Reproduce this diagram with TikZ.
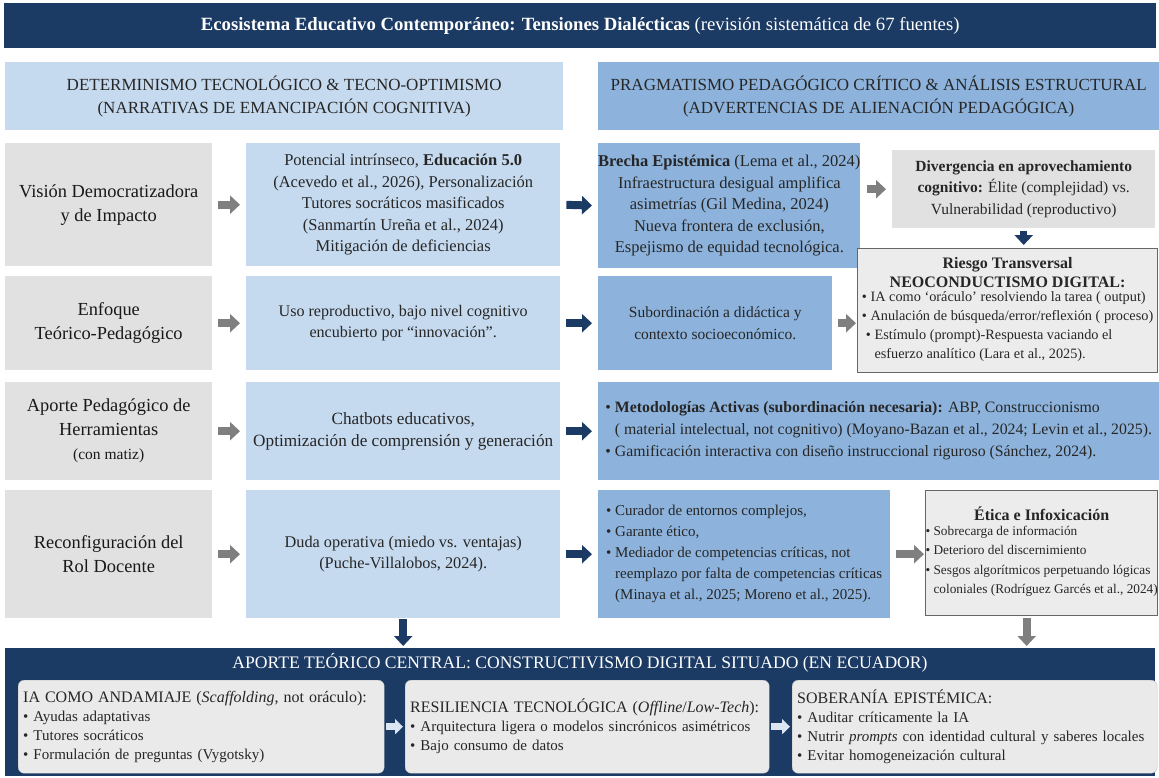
\documentclass[tikz,border=0pt]{standalone}
\usepackage{fontspec}
\setmainfont{Liberation Serif}
\usetikzlibrary{arrows.meta}

\definecolor{navy}{HTML}{1B3A64}
\definecolor{optblue}{HTML}{C6DAEF}
\definecolor{critblue}{HTML}{8DB3DC}
\definecolor{topicgray}{HTML}{E1E1E1}
\definecolor{riskgray}{HTML}{ECECEC}
\definecolor{arrgray}{HTML}{7F7F7F}
\definecolor{cardgray}{HTML}{EAEAEA}
\definecolor{paleblue}{HTML}{DCE6F2}

\newcommand{\itm}{\textbullet\ }
\newcommand{\cnt}{\phantom{\textbullet}\ }
\newcommand{\setfs}[2]{\fontsize{#1}{#2}\selectfont}

\tikzset{
    base/.style={anchor=north west, inner sep=0pt, align=center, text=black!85},
    topic/.style={base, fill=topicgray, minimum width=207pt, text=black!90, font=\setfs{18.4}{24}},
    optim/.style={base, fill=optblue, minimum width=314pt, font=\setfs{16.5}{21.5}},
    critic/.style={base, fill=critblue, font=\setfs{16.5}{21.5}},
    risk/.style={base, fill=riskgray, draw=black!60, line width=1.2pt},
    card/.style={base, align=left, rounded corners=6pt, fill=cardgray, draw=black!25,
        inner xsep=5pt, font=\setfs{15}{19}},
    garrow/.style={draw=arrgray, line width=8pt, -{Triangle[width=18pt,length=10pt]},
        shorten <=6pt, shorten >=6pt},
    narrow/.style={garrow, draw=navy},
    larrow/.style={draw=paleblue, line width=7pt, -{Triangle[width=15pt,length=8pt]},
        shorten <=2pt, shorten >=2pt}
}

\begin{document}
\begin{tikzpicture}[x=1pt, y=-1pt]
    \useasboundingbox (0,0) rectangle (1159,778);

    % title and column headers
    \node[base, fill=navy, text=white, minimum width=1152pt, minimum height=45pt,
        font=\setfs{18.7}{22}] (title) at (4,3)
        {\textbf{Ecosistema Educativo Contemporáneo: Tensiones Dialécticas} (revisión sistemática de 67 fuentes)};
    \node[base, fill=optblue, minimum width=558pt, minimum height=68pt, font=\setfs{17}{23}] (hdopt) at (5,62)
        {DETERMINISMO TECNOLÓGICO \& TECNO-OPTIMISMO\\(NARRATIVAS DE EMANCIPACIÓN COGNITIVA)};
    \node[base, fill=critblue, minimum width=561pt, minimum height=68pt, font=\setfs{17}{23}] (hdcrit) at (598,62)
        {PRAGMATISMO PEDAGÓGICO CRÍTICO \& ANÁLISIS ESTRUCTURAL\\(ADVERTENCIAS DE ALIENACIÓN PEDAGÓGICA)};

    % row 1
    \node[topic, minimum height=123pt] (vis) at (5,143) {Visión Democratizadora\\y de Impacto};
    \node[optim, minimum height=123pt] (vispot) at (246,143)
        {Potencial intrínseco, \textbf{Educación 5.0}\\(Acevedo et al., 2026), Personalización\\
         Tutores socráticos masificados\\(Sanmartín Ureña et al., 2024)\\Mitigación de deficiencias};
    \node[critic, minimum width=257pt, minimum height=125pt] (brecha) at (598,143)
        {\textbf{Brecha Epistémica} (Lema et al., 2024)\\Infraestructura desigual amplifica\\
         asimetrías (Gil Medina, 2024)\\Nueva frontera de exclusión,\\Espejismo de equidad tecnológica.};
    \node[base, fill=topicgray, minimum width=263pt, minimum height=78pt, font=\setfs{15.5}{21.5}] (diverg) at (892,150)
        {\textbf{Divergencia en aprovechamiento}\\\textbf{cognitivo:} Élite (complejidad) vs.\\Vulnerabilidad (reproductivo)};
    \node[risk, minimum width=300pt, minimum height=124pt, font=\setfs{16}{19}] (riesgo) at (857,248)
        {\textbf{Riesgo Transversal}\\\textbf{NEOCONDUCTISMO DIGITAL:}\\
         \setfs{14.3}{19}\begin{tabular}{@{}l@{}}
         \itm IA como ‘oráculo’ resolviendo la tarea ( output)\\
         \itm Anulación de búsqueda/error/reflexión ( proceso)\\
         \hspace*{4pt}\itm Estímulo (prompt)-Respuesta vaciando el\\
         \hspace*{4pt}\cnt esfuerzo analítico (Lara et al., 2025).
         \end{tabular}};

    % row 2
    \node[topic, minimum height=94pt] (enf) at (5,276) {Enfoque\\Teórico-Pedagógico};
    \node[optim, minimum height=94pt, font=\setfs{16.1}{21.5}] (enfuso) at (246,276)
        {Uso reproductivo, bajo nivel cognitivo\\encubierto por “innovación”.};
    \node[critic, minimum width=234pt, minimum height=94pt, font=\setfs{15.5}{21.5}] (subord) at (598,276)
        {Subordinación a didáctica y\\contexto socioeconómico.};

    % row 3
    \node[topic, minimum height=98pt] (apo) at (5,382)
        {Aporte Pedagógico de\\Herramientas\\{\setfs{15.5}{21}(con matiz)}};
    \node[optim, minimum height=98pt, font=\setfs{17.2}{22}] (apochat) at (246,382)
        {Chatbots educativos,\\Optimización de comprensión y generación};
    \node[critic, align=left, minimum width=561pt, minimum height=98pt, font=\setfs{15.8}{22}] (metod) at (598,382)
        {\itm\textbf{Metodologías Activas (subordinación necesaria):} ABP, Construccionismo\\
         \cnt( material intelectual, not cognitivo) (Moyano-Bazan et al., 2024; Levin et al., 2025).\\
         \itm Gamificación interactiva con diseño instruccional riguroso (Sánchez, 2024).};

    % row 4
    \node[topic, minimum height=128pt] (rol) at (5,490) {Reconfiguración del\\Rol Docente};
    \node[optim, minimum height=128pt, font=\setfs{16.3}{21.5}] (roldud) at (246,490)
        {Duda operativa (miedo vs. ventajas)\\(Puche-Villalobos, 2024).};
    \node[critic, align=left, minimum width=292pt, minimum height=128pt, font=\setfs{15}{21}] (curad) at (598,490)
        {\itm Curador de entornos complejos,\\\itm Garante ético,\\
         \itm Mediador de competencias críticas, not\\
         \cnt reemplazo por falta de competencias críticas\\
         \cnt (Minaya et al., 2025; Moreno et al., 2025).};
    \node[risk, minimum width=232pt, minimum height=125pt, font=\setfs{16}{20}] (etica) at (925,490)
        {\textbf{Ética e Infoxicación}\\
         \setfs{13.3}{19.5}\begin{tabular}{@{}l@{}}
         \itm Sobrecarga de información\\
         \itm Deterioro del discernimiento\\
         \itm Sesgos algorítmicos perpetuando lógicas\\
         \cnt coloniales (Rodríguez Garcés et al., 2024)
         \end{tabular}};

    % central contribution
    \node[base, fill=navy, minimum width=1150pt, minimum height=128pt] (core) at (5,648) {};
    \node[text=white, font=\setfs{17.6}{20}] (coretitle) at (580,663)
        {APORTE TEÓRICO CENTRAL: CONSTRUCTIVISMO DIGITAL SITUADO (EN ECUADOR)};
    \node[card, minimum width=366pt, minimum height=93pt, text width=356pt] (andam) at (18,680)
        {{\setfs{16}{19}IA COMO ANDAMIAJE (\textit{Scaffolding}, not oráculo):}\\
         \itm Ayudas adaptativas\\\itm Tutores socráticos\\\itm Formulación de preguntas (Vygotsky)};
    \node[card, minimum width=364pt, minimum height=93pt, text width=354pt] (resil) at (405,680)
        {{\setfs{16}{19}RESILIENCIA TECNOLÓGICA (\textit{Offline}/\textit{Low-Tech}):}\\
         \itm Arquitectura ligera o modelos sincrónicos asimétricos\\\itm Bajo consumo de datos};
    \node[card, minimum width=365pt, minimum height=93pt, text width=355pt] (sober) at (792,680)
        {{\setfs{16}{19}SOBERANÍA EPISTÉMICA:}\\
         \itm Auditar críticamente la IA\\
         \itm Nutrir \textit{prompts} con identidad cultural y saberes locales\\
         \itm Evitar homogeneización cultural};

    % arrows
    \foreach \a/\b in {vis/vispot, enf/enfuso, apo/apochat, rol/roldud}
        \draw[garrow] (\a.east) -- (\b.west);
    \foreach \a/\b in {vispot/brecha, enfuso/subord, apochat/metod, roldud/curad}
        \draw[narrow] (\a.east) -- (\b.west);
    \draw[garrow] (brecha.east |- diverg.west) -- (diverg.west);
    \draw[garrow, shorten >=1pt] (subord.east) -- (subord.east -| riesgo.west);
    \draw[garrow, shorten >=1pt] (curad.east) -- (curad.east -| etica.west);
    \draw[narrow, line width=7pt, shorten <=3pt, shorten >=3pt] (diverg.south) -- (diverg.south |- riesgo.north);
    \draw[narrow, shorten <=1pt, shorten >=2pt] (roldud.south) -- (roldud.south |- core.north);
    \draw[garrow, shorten <=2pt, shorten >=2pt] ([xshift=-15pt]etica.south) -- ([xshift=-15pt]etica.south |- core.north);
    \draw[larrow] (andam.east) -- (andam.east -| resil.west);
    \draw[larrow] (resil.east) -- (resil.east -| sober.west);
\end{tikzpicture}
\end{document}
